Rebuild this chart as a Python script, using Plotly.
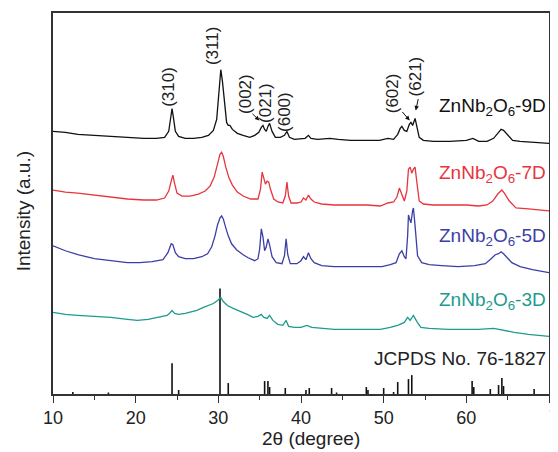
import plotly.graph_objects as go

# ---------------- data (2theta in degrees, intensity in a.u.) ----------------
tt_9D = [10.0, 11.5, 13, 15, 17, 19, 21, 22.5, 23.5, 24.0, 24.2, 24.4, 24.6, 24.8, 25.2, 26, 27, 28, 28.8, 29.4,
         29.8, 30.1, 30.3, 30.5, 30.8, 31.0, 31.2, 31.4, 31.7, 32.3, 33, 33.8, 34.4, 34.9, 35.2, 35.4, 35.6, 35.8,
         36.0, 36.2, 36.5, 36.9, 37.5, 38.0, 38.3, 38.6, 39.2, 40.0, 40.5, 40.9, 41.2, 42, 43.5, 44.5, 46, 48,
         49.5, 50.5, 51.2, 51.7, 52.0, 52.2, 52.5, 52.8, 53.1, 53.3, 53.5, 53.8, 54.0, 54.3, 54.8, 56, 58, 60,
         60.8, 61.5, 62.5, 63.3, 63.8, 64.2, 64.5, 65, 65.6, 66.5, 68, 69, 70]
int_9D = [264, 263, 261, 260, 259, 258, 257, 257, 258, 264, 274, 287, 276, 264, 259, 257, 257, 258, 260, 265,
          276, 304, 326, 314, 286, 273, 270, 270, 266, 262, 260, 258, 260, 263, 268, 270, 266, 264,
          269, 272, 264, 258, 258, 260, 264, 258, 256, 257, 257, 260, 257, 256, 257, 256, 255, 255,
          255, 257, 256, 261, 267, 269, 265, 264, 271, 273, 270, 277, 269, 258, 255, 254, 254, 255,
          257, 254, 254, 257, 262, 266, 265, 260, 255, 254, 253, 253, 252]

tt_7D = [10, 11.5, 13, 15, 17, 19, 21, 22.5, 23.5, 24.0, 24.3, 24.5, 24.7, 25.0, 25.6, 26.6, 27.6, 28.4, 29.0,
         29.5, 29.9, 30.2, 30.4, 30.6, 30.9, 31.3, 31.7, 32.3, 33, 33.9, 34.8, 35.1, 35.3, 35.5, 35.7, 35.9,
         36.1, 36.3, 36.7, 37.2, 37.8, 38.1, 38.3, 38.5, 38.8, 39.5, 40.0, 40.3, 40.6, 40.9, 41.2, 41.6, 42.5,
         44, 46, 48, 49.6, 50.5, 51.2, 51.6, 51.9, 52.2, 52.5, 52.8, 53.0, 53.2, 53.4, 53.6, 53.8, 54.0, 54.3,
         54.8, 56, 58, 60, 61.5, 62.5, 63.2, 63.8, 64.3, 64.6, 65.2, 66, 67.5, 69, 70]
int_7D = [205, 203, 202, 200, 198, 196, 195, 195, 197, 204, 214, 220, 212, 202, 199, 199, 201, 204, 209,
          218, 231, 241, 243, 239, 228, 217, 210, 203, 199, 196, 196, 206, 223, 216, 211, 214,
          213, 206, 196, 193, 192, 199, 213, 199, 192, 192, 193, 197, 195, 200, 196, 193, 191,
          190, 190, 190, 189, 192, 193, 198, 207, 201, 194, 204, 226, 228, 222, 226, 228, 214, 194,
          191, 190, 190, 190, 189, 190, 194, 201, 205, 202, 194, 187, 186, 185, 184]

tt_5D = [10, 11.5, 13, 15, 17, 19, 20.5, 22, 23.3, 23.9, 24.3, 24.5, 24.8, 25.2, 26, 27, 28, 28.7, 29.2, 29.6,
         29.9, 30.2, 30.4, 30.6, 30.9, 31.2, 31.6, 32.2, 33, 33.6, 34.4, 34.8, 35.0, 35.2, 35.4, 35.6, 35.8,
         36.0, 36.2, 36.5, 37, 37.7, 38.0, 38.2, 38.4, 38.7, 39.5, 40.0, 40.3, 40.6, 40.9, 41.2, 41.6, 42.5,
         44, 46, 48, 49.8, 50.8, 51.5, 51.9, 52.2, 52.5, 52.7, 52.9, 53.0, 53.1, 53.3, 53.5, 53.6, 53.8, 54.1,
         54.6, 55.5, 57, 59, 61, 62.3, 63, 63.5, 63.9, 64.2, 64.5, 65, 65.5, 66.5, 68, 70]
int_5D = [149, 144, 140, 136, 134, 132, 132, 133, 135, 142, 151, 150, 142, 138, 136, 136, 138, 141, 148, 159,
          170, 177, 179, 176, 167, 159, 151, 145, 140, 137, 134, 136, 146, 166, 158, 144, 148,
          156, 150, 138, 132, 131, 139, 156, 140, 131, 131, 134, 138, 135, 142, 136, 132, 129,
          128, 128, 128, 128, 130, 132, 141, 144, 138, 136, 159, 180, 177, 172, 184, 187, 169, 139,
          132, 130, 129, 128, 129, 131, 136, 140, 141, 143, 141, 136, 132, 128, 125, 122]

tt_3D = [10, 11.5, 13, 15, 17, 19, 20.2, 21.5, 22.8, 23.8, 24.2, 24.4, 24.7, 25.2, 26.0, 26.6, 27.4, 28.2, 28.8,
         29.4, 29.9, 30.3, 30.6, 31.1, 31.8, 32.7, 33.5, 34.2, 34.8, 35.2, 35.5, 35.9, 36.2, 36.6, 37.2, 37.8,
         38.2, 38.5, 39.2, 40.0, 40.7, 41.3, 42.5, 44, 46, 48, 49.6, 50.8, 51.7, 52.5, 52.9, 53.2, 53.6, 54.0,
         54.5, 55.5, 57.8, 60, 61.5, 63.3, 64.5, 65.8, 67.5, 70]
int_3D = [82, 80, 79, 78, 77, 75, 74, 75, 77, 79, 82, 84, 81, 80, 81, 82, 84, 87, 89,
          91, 94, 97, 93, 89, 86, 83, 80, 77, 78, 80, 77, 76, 79, 74, 70, 69,
          74, 68, 67, 67, 69, 67, 66, 65, 65, 65, 65, 67, 69, 72, 77, 74, 79, 73,
          67, 66, 65, 65, 65, 66, 64, 62, 60, 58]

# JCPDS No. 76-1827 reference lines
ref_tt = [12.4, 16.7, 24.4, 25.2, 30.2, 31.2, 35.6, 36.0, 36.2, 38.1, 40.6, 41.0, 43.7, 44.3, 47.9, 48.1,
          50.0, 51.2, 51.7, 53.0, 53.4, 60.7, 60.9, 62.9, 63.9, 64.3, 64.5, 68.2]
ref_int = [2, 1.5, 31, 4, 106, 11, 13, 13, 7, 6, 4, 6, 6, 1.5, 7, 4,
           6, 2, 12, 15, 19, 13, 7, 5, 9, 16, 8, 5]

tick_vals = [10, 20, 30, 40, 50, 60]
edge_tick = 70

series_names = ["ZnNb<sub>2</sub>O<sub>6</sub>-9D", "ZnNb<sub>2</sub>O<sub>6</sub>-7D",
                "ZnNb<sub>2</sub>O<sub>6</sub>-5D", "ZnNb<sub>2</sub>O<sub>6</sub>-3D"]
series_colors = ["#111111", "#e8343c", "#3b3fa5", "#1d9b8e"]
label_y = [289, 221, 158, 93]

peak_labels = ["(310)", "(311)", "(002)", "(021)", "(600)", "(602)", "(621)"]
peak_label_x = [23.94, 29.39, 33.27, 35.70, 38.0, 51.09, 53.88]
peak_label_y = [309, 350, 302, 293, 284, 302, 319]

# arrows: (head x, head y, tail x, tail y)
arrows = [(34.97, 275, 33.95, 283), (53.15, 275, 52.1, 285), (53.88, 285, 54.22, 298)]

FONT = "Arial, Liberation Sans, sans-serif"

fig = go.Figure()

xs, ys = [], []
for t, h in zip(ref_tt, ref_int):
    xs += [t, t, None]
    ys += [0, h, None]
fig.add_trace(go.Scatter(x=xs, y=ys, mode="lines", line=dict(color="#111111", width=1.6),
                         hoverinfo="skip", showlegend=False))

for tt, it, c in [(tt_3D, int_3D, series_colors[3]), (tt_5D, int_5D, series_colors[2]),
                  (tt_7D, int_7D, series_colors[1]), (tt_9D, int_9D, series_colors[0])]:
    fig.add_trace(go.Scatter(x=tt, y=it, mode="lines", line=dict(color=c, width=1.3),
                             showlegend=False))

annotations = []
for name, c, yv in zip(series_names, series_colors, label_y):
    annotations.append(dict(x=69.85, y=yv, xref="x", yref="y", text=name, showarrow=False,
                            xanchor="right", yanchor="middle", font=dict(size=19, color=c, family=FONT)))
annotations.append(dict(x=69.85, y=36, xref="x", yref="y", text="JCPDS No. 76-1827", showarrow=False,
                        xanchor="right", yanchor="middle", font=dict(size=19, color="#222222", family=FONT)))
for t, xv, yv in zip(peak_labels, peak_label_x, peak_label_y):
    annotations.append(dict(x=xv, y=yv, xref="x", yref="y", text=t, showarrow=False, textangle=-90,
                            xanchor="center", yanchor="middle", font=dict(size=17, color="#222222", family=FONT)))
for hx, hy, tx, ty in arrows:
    annotations.append(dict(x=hx, y=hy, ax=tx, ay=ty, xref="x", yref="y", axref="x", ayref="y", text="",
                            showarrow=True, arrowhead=2, arrowsize=0.9, arrowwidth=1, arrowcolor="#111111"))
# last tick label sits at the right edge of the picture (partly cut, as in the reference)
annotations.append(dict(x=edge_tick, y=-0.06, xref="x", yref="paper", text=str(edge_tick), showarrow=False,
                        xanchor="left", yanchor="middle", xshift=-2,
                        font=dict(size=18, color="#222222", family=FONT)))
annotations.append(dict(x=-0.06, y=0.48, xref="paper", yref="paper", text="Intensity (a.u.)", showarrow=False,
                        textangle=-90, xanchor="center", yanchor="middle",
                        font=dict(size=19, color="#222222", family=FONT)))
annotations.append(dict(x=0.52, y=-0.118, xref="paper", yref="paper", text="2θ (degree)", showarrow=False,
                        xanchor="center", yanchor="middle", font=dict(size=19, color="#222222", family=FONT)))

# page body adds an 8px margin, so the figure is sized to land the plot area where the reference has it
fig.update_layout(
    width=550, height=444,
    margin=dict(l=45, r=9, t=3, b=58),
    paper_bgcolor="white", plot_bgcolor="white",
    annotations=annotations,
    xaxis=dict(range=[10, 70], tickmode="array", tickvals=tick_vals + [edge_tick],
               ticktext=[str(v) for v in tick_vals] + [""],
               showgrid=False, zeroline=False,
               showline=True, linecolor="#333333", linewidth=1.5, mirror=True,
               ticks="outside", ticklen=7, tickwidth=1.3, tickcolor="#333333",
               minor=dict(ticks="outside", ticklen=4, dtick=5, tick0=10, tickwidth=1.2, tickcolor="#333333"),
               tickfont=dict(size=18, color="#222222", family=FONT)),
    yaxis=dict(range=[0, 383], showgrid=False, zeroline=False, showticklabels=False, ticks="",
               showline=True, linecolor="#333333", linewidth=1.5, mirror=True),
)

fig.write_html("out.html")
